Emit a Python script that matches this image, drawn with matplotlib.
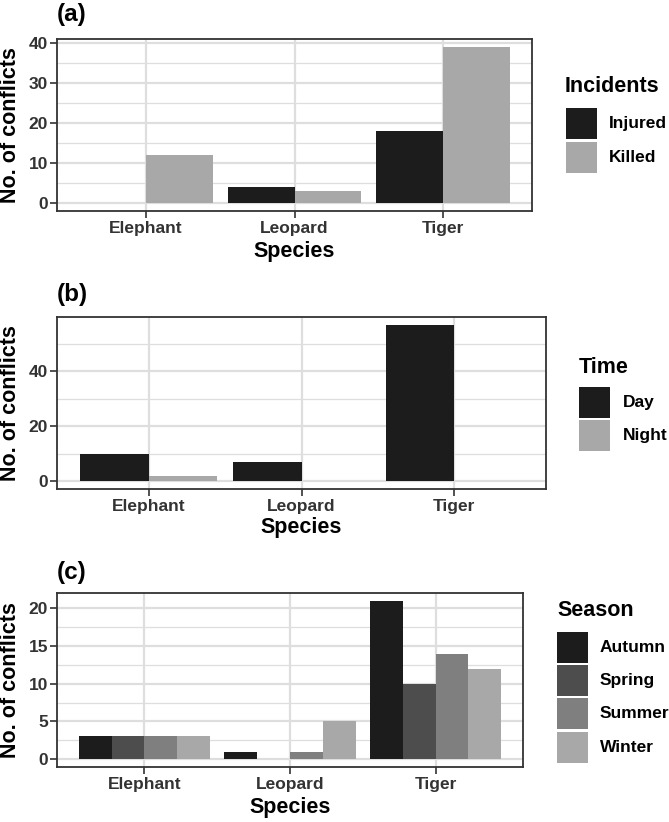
import numpy as np
import matplotlib
matplotlib.use("Agg")
import matplotlib.pyplot as plt
from matplotlib.patches import Rectangle

plt.rcParams['font.family'] = ['Liberation Sans', 'DejaVu Sans']
plt.rcParams['font.weight'] = 'bold'

# ---------------- data ----------------
species = ["Elephant", "Leopard", "Tiger"]

incident_levels = ["Injured", "Killed"]
incident_injured = [0, 4, 18]
incident_killed = [12, 3, 39]

time_levels = ["Day", "Night"]
time_day = [10, 7, 57]
time_night = [2, 0, 0]

season_levels = ["Autumn", "Spring", "Summer", "Winter"]
season_autumn = [3, 1, 21]
season_spring = [3, 0, 10]
season_summer = [3, 1, 14]
season_winter = [3, 5, 12]

panel_tags = ["(a)", "(b)", "(c)"]
legend_titles = ["Incidents", "Time", "Season"]
xlabel = "Species"
ylabel = "No. of conflicts"
yticks_a = [0, 10, 20, 30, 40]
yticks_b = [0, 20, 40]
yticks_c = [0, 5, 10, 15, 20]

# ---------------- style ----------------
W, H = 669, 822
fig = plt.figure(figsize=(W / 100, H / 100), dpi=100)

two_cols = ["#1c1c1c", "#a8a8a8"]
four_cols = ["#1c1c1c", "#4d4d4d", "#7f7f7f", "#a8a8a8"]
grid_col = "#dedede"
border_col = "#333333"
tick_txt_col = "#333333"


def fx(px):
    return px / W


def fy(py):
    return 1 - py / H


def make_axes(left, right, top, bottom):
    return fig.add_axes([fx(left), fy(bottom), fx(right) - fx(left), fy(top) - fy(bottom)])


def draw_panel(ax, series, colors, yticks, ymax, box, tag, species_y):
    left, right, top, bottom = box
    n = len(series)
    total = 0.9
    w = total / n
    x = np.arange(1, len(species) + 1)
    for i, (vals, c) in enumerate(zip(series, colors)):
        off = -total / 2 + w * (i + 0.5)
        ax.bar(x + off, vals, width=w, color=c, linewidth=0, zorder=3)
    ax.set_xlim(0.4, len(species) + 0.6)
    pad = ymax * 0.05
    ax.set_ylim(-pad, ymax + pad)
    ax.set_xticks(x)
    ax.set_xticklabels(species)
    ax.set_yticks(yticks)
    step = yticks[1] - yticks[0]
    minors = np.arange(yticks[0] + step / 2, ymax + pad, step)
    ax.set_yticks(minors, minor=True)
    ax.grid(True, which='major', axis='both', color=grid_col, linewidth=1.6, zorder=0)
    ax.grid(True, which='minor', axis='y', color=grid_col, linewidth=0.9, zorder=0)
    ax.tick_params(axis='both', which='major', length=5, width=1.2, color=border_col,
                   labelsize=12.5, labelcolor=tick_txt_col)
    ax.tick_params(axis='x', which='major', pad=2.5)
    ax.tick_params(axis='y', which='major', pad=1.5)
    ax.tick_params(axis='y', which='minor', length=0)
    for lab in ax.get_xticklabels() + ax.get_yticklabels():
        lab.set_fontweight('bold')
    for sp in ax.spines.values():
        sp.set_color(border_col)
        sp.set_linewidth(1.3)
    ax.set_axisbelow(True)
    wpx = right - left
    hpx = bottom - top
    ax.set_xlabel(xlabel, fontsize=15.5, fontweight='bold', va='center')
    ax.xaxis.set_label_coords(0.5, -(species_y - bottom) / hpx)
    ax.set_ylabel(ylabel, fontsize=15.5, fontweight='bold', va='center')
    ax.yaxis.set_label_coords(-(left - 11) / wpx, 0.5)
    fig.text(fx(57), fy(tag_y[tag]), tag, fontsize=17.5, fontweight='bold',
             ha='left', va='center')


def draw_legend(title, levels, colors, title_xy, key_x, key_w, key_tops, key_h, label_x):
    fig.text(fx(title_xy[0]), fy(title_xy[1]), title, fontsize=15.5, fontweight='bold',
             ha='left', va='center')
    for lev, c, t in zip(levels, colors, key_tops):
        r = Rectangle((fx(key_x), fy(t + key_h)), key_w / W, key_h / H,
                      transform=fig.transFigure, facecolor=c, edgecolor='none')
        fig.add_artist(r)
        fig.text(fx(label_x), fy(t + key_h / 2), lev, fontsize=12.5, fontweight='bold',
                 ha='left', va='center')


tag_y = {"(a)": 15, "(b)": 295, "(c)": 573}

# panel a
box_a = (57, 532, 39, 211)
ax_a = make_axes(*box_a)
draw_panel(ax_a, [incident_injured, incident_killed], two_cols, yticks_a,
           max(max(incident_injured), max(incident_killed)), box_a, panel_tags[0], 251)
draw_legend(legend_titles[0], incident_levels, two_cols, (565, 87), 566, 31,
            [108, 142], 31, 609)

# panel b
box_b = (57, 546, 317, 489)
ax_b = make_axes(*box_b)
draw_panel(ax_b, [time_day, time_night], two_cols, yticks_b,
           max(max(time_day), max(time_night)), box_b, panel_tags[1], 528)
draw_legend(legend_titles[1], time_levels, two_cols, (579, 367), 579, 31,
            [387, 420], 31, 623)

# panel c
box_c = (57, 523, 593, 767)
ax_c = make_axes(*box_c)
draw_panel(ax_c, [season_autumn, season_spring, season_summer, season_winter], four_cols,
           yticks_c,
           max(season_autumn + season_spring + season_summer + season_winter),
           box_c, panel_tags[2], 807)
draw_legend(legend_titles[2], season_levels, four_cols, (557, 610), 557, 31,
            [632, 665, 698, 732], 31, 600)

fig.savefig("out.png", dpi=100, facecolor="white")
